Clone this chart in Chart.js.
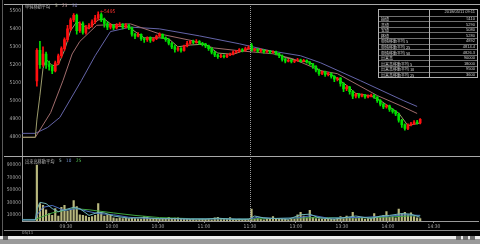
<!DOCTYPE html>
<html><head><meta charset="utf-8">
<script src="https://cdn.jsdelivr.net/npm/chart.js@4/dist/chart.umd.min.js"></script>
<style>
html,body{margin:0;padding:0;background:#000;width:480px;height:244px;overflow:hidden;}
#wrap{position:relative;width:480px;height:244px;}
#c{position:absolute;left:0;top:0;}
.t{position:absolute;font-family:'Noto Sans CJK JP',sans-serif;white-space:nowrap;line-height:1;}
.ln{position:absolute;}
#tbl{position:absolute;left:378px;top:9px;width:100px;border:1px solid #b0b0b0;box-sizing:border-box;}
.row{position:relative;height:5.6px;border-top:1px solid #707070;box-sizing:border-box;}
.row:first-child{border-top:none;}
.cl{position:absolute;left:2px;top:0.4px;font-size:4px;color:#d0d0d0;font-family:'Noto Sans CJK JP',sans-serif;white-space:nowrap;line-height:1;}
.cr{position:absolute;right:2px;top:0.4px;font-size:4px;color:#d0d0d0;font-family:'Liberation Sans','Noto Sans CJK JP',sans-serif;white-space:nowrap;line-height:1;}
#div{position:absolute;left:50px;top:0;width:1px;height:100%;background:#b0b0b0;}
</style></head>
<body><div id="wrap">
<canvas id="c" width="480" height="244"></canvas>
</div>
<script>
// ---------- data ----------
const priceTicks = [4800,4900,5000,5100,5200,5300,5400,5500];
const volumeTicks = [10000,30000,50000,70000,90000];
const tickMinutes = [30,60,90,120,150,180,210,240,270];
const tickLabels = ['09:30','10:00','10:30','11:00','11:30','13:00','13:30','14:00','14:30'];

const opens = [5110,5280,5200,5260,5200,5190,5165,5210,5250,5290,
5340,5400,5450,5475,5390,5430,5380,5410,5420,5440,
5460,5480,5450,5430,5410,5420,5405,5420,5425,5410,
5420,5405,5370,5360,5370,5345,5340,5350,5335,5345,
5360,5370,5350,5340,5320,5300,5285,5290,5280,5305,
5320,5330,5325,5330,5320,5315,5305,5290,5270,5255,
5245,5250,5245,5255,5260,5270,5275,5285,5280,5290,
5310,5280,5285,5275,5280,5272,5275,5270,5272,5262,
5250,5230,5220,5225,5218,5222,5228,5220,5224,5215,
5205,5190,5170,5150,5160,5145,5150,5135,5120,5125,
5095,5065,5075,5050,5025,5035,5025,5030,5020,5025,
5030,5020,5000,4980,4965,4970,4950,4940,4925,4890,
4865,4845,4865,4870,4880,4875];
const highs = [5290,5330,5300,5270,5220,5200,5220,5260,5300,5350,
5420,5460,5485,5482,5440,5440,5420,5430,5450,5475,
5495,5490,5460,5440,5430,5425,5430,5435,5430,5430,
5425,5410,5375,5380,5372,5350,5355,5355,5350,5365,
5378,5372,5355,5345,5325,5310,5300,5295,5310,5330,
5335,5338,5340,5335,5325,5320,5310,5295,5275,5260,
5258,5255,5260,5265,5278,5280,5290,5290,5298,5305,
5320,5292,5290,5288,5285,5282,5280,5278,5276,5265,
5255,5235,5232,5230,5228,5235,5232,5230,5228,5218,
5208,5195,5175,5165,5165,5158,5155,5140,5130,5128,
5100,5085,5080,5055,5040,5040,5038,5035,5032,5036,
5033,5022,5005,4985,4978,4975,4955,4945,4930,4895,
4870,4870,4878,4888,4890,4900];
const lows = [5080,5180,5190,5180,5170,5150,5160,5200,5240,5280,
5330,5390,5440,5370,5380,5370,5370,5400,5410,5430,
5450,5440,5410,5395,5400,5395,5400,5415,5400,5405,
5395,5360,5345,5355,5335,5325,5330,5325,5330,5340,
5355,5345,5330,5310,5290,5270,5275,5270,5275,5300,
5315,5318,5320,5312,5305,5295,5280,5260,5245,5235,
5240,5238,5240,5250,5255,5265,5270,5272,5275,5285,
5275,5275,5268,5270,5265,5268,5262,5265,5255,5240,
5220,5210,5215,5210,5212,5218,5214,5215,5208,5198,
5180,5160,5140,5145,5135,5138,5125,5105,5110,5080,
5050,5055,5035,5010,5015,5015,5020,5012,5015,5020,
5012,4990,4970,4955,4958,4940,4930,4915,4880,4850,
4835,4838,4858,4865,4868,4870];
const closes = [5280,5200,5260,5200,5190,5165,5210,5250,5290,5340,
5400,5450,5475,5390,5430,5380,5410,5420,5440,5460,
5480,5450,5430,5410,5420,5405,5420,5425,5410,5420,
5405,5370,5360,5370,5345,5340,5350,5335,5345,5360,
5370,5350,5340,5320,5300,5285,5290,5280,5305,5320,
5330,5325,5330,5320,5315,5305,5290,5270,5255,5245,
5250,5245,5255,5260,5270,5275,5285,5280,5290,5295,
5280,5285,5275,5280,5272,5275,5270,5272,5262,5250,
5230,5220,5225,5218,5222,5228,5220,5224,5215,5205,
5190,5170,5150,5160,5145,5150,5135,5120,5125,5095,
5065,5075,5050,5025,5035,5025,5030,5020,5025,5030,
5020,5000,4980,4965,4970,4950,4940,4925,4890,4865,
4845,4865,4870,4880,4875,4895];
const volumes = [90000,28000,25000,18000,12000,9000,20000,8000,22000,25000,
16000,18000,33000,23000,10000,9000,8000,6000,7000,9000,
28000,14000,8000,10000,9000,5000,4000,5000,4000,5000,
4000,4500,4000,3500,3000,7000,6000,4000,3500,3000,
4000,3000,4000,6000,3500,4500,5000,3000,2500,3000,
2500,3000,2000,2500,3000,2500,3000,2000,5000,6000,
4000,2500,3000,5500,2500,2000,3000,2000,2500,3000,
19000,3000,4000,2500,2000,3000,2500,7000,3000,4000,
2500,3000,2000,2500,3000,10000,14000,8000,5000,17000,
6000,4000,3500,3000,2500,3000,2500,3000,4000,7000,
4000,8000,5000,14000,4000,5000,6000,3000,4000,3500,
12000,6000,7000,9000,15000,6000,7000,5000,19000,12000,
14000,10000,13000,7000,5000,4000];

// moving averages (session minute, value)
const ma5Min = [1,10,11,13,15,17,21,25,29,33,37,41,45,51,55,61,71,75,81,91,97,103,111,121,129,139,149,155,165,173,181,189,195,205,213,219,229,235,241,247,253,261];
const ma5Val = [4795,4795,4892,5030,5180,5230,5195,5200,5280,5390,5440,5420,5400,5450,5455,5415,5412,5385,5350,5350,5345,5300,5310,5315,5265,5258,5288,5288,5273,5240,5222,5215,5170,5135,5085,5040,5025,5000,4965,4930,4860,4875];
const ma25Min = [1,10,20,28,34,39,50,72,91,113,126,143,157,165,178,196,207,233,248,259];
const ma25Val = [4795,4795,4933,5111,5260,5330,5420,5428,5372,5333,5294,5278,5267,5261,5233,5167,5150,5028,4972,4928];
const ma50Min = [1,10,18,26,40,49,59,72,91,117,143,163,183,196,222,250,259];
const ma50Val = [4817,4817,4850,4906,5111,5250,5385,5410,5400,5361,5317,5278,5250,5211,5111,5000,4967];
const vma5Min = [1,10,11,13,17,21,25,29,35,39,45,51,55,61,71,81,91,101,111,121,129,141,149,153,159,167,175,183,189,195,205,213,219,229,235,241,249,255,261];
const vma5Val = [1500,1500,18000,30000,28000,20000,15000,18000,22000,20000,9000,14000,13000,8000,4500,5500,3500,4000,3000,3000,4500,2500,2800,8000,5000,4000,2800,10000,11000,5000,3000,6000,8000,4000,8000,9000,12000,11000,6000];
const vma10Min = [1,10,11,15,21,29,37,45,51,61,71,81,91,111,131,149,155,165,181,191,201,215,225,241,251,261];
const vma10Val = [2000,2000,9500,22000,25000,17000,20000,15000,12000,10000,6000,4500,4000,3200,3500,3000,6000,4000,5000,9000,4500,5500,6000,8000,10000,9000];
const vma25Min = [1,10,11,21,35,45,61,75,91,111,131,149,165,185,201,221,241,261];
const vma25Val = [2500,2500,3600,13000,20000,18000,13000,9000,5500,3800,3500,3200,4000,5000,5500,5000,6500,9000];

const tableLabels = ['','始値','高値','安値','終値','単純移動平均 5','単純移動平均 25','単純移動平均 50','出来高','出来高移動平均 5','出来高移動平均 10','出来高移動平均 25'];
const tableValues = ['2018/05/11 09:11','5110','5290','5080','5280','4892','4814.4','4826.3','90000','18000','9500','3600'];

// ---------- build ----------
const barMinutes = [];
for (let m = 11; m <= 261; m += 2) barMinutes.push(m);
const UP = '#ff1010', DOWN = '#00e000';
const cols = closes.map((c, i) => c >= opens[i] ? UP : DOWN);
const pts = (mins, vals) => mins.map((m, i) => ({x: m, y: vals[i]}));
const FONT = "'Liberation Sans Narrow','DejaVu Sans Condensed','Liberation Sans',sans-serif";
const lineDs = (label, mins, vals, color, axis, order) => ({
  type: 'line', label, data: pts(mins, vals), yAxisID: axis, borderColor: color,
  borderWidth: 1, pointRadius: 0, tension: 0, order
});

const overlay = {
  id: 'overlay',
  afterDatasetsDraw(chart) {
    const {ctx, chartArea, scales} = chart;
    ctx.save();
    ctx.strokeStyle = '#9a9a9a';
    ctx.lineWidth = 1;
    ctx.setLineDash([1, 1]);
    const xp = Math.round(scales.x.getPixelForValue(150)) + 0.5;
    ctx.beginPath(); ctx.moveTo(xp, chartArea.top); ctx.lineTo(xp, chartArea.bottom); ctx.stroke();
    ctx.setLineDash([]);
    ctx.strokeStyle = '#a8a8a8';
    const yb = Math.round(scales.y.bottom) + 0.5;
    ctx.beginPath(); ctx.moveTo(4, yb); ctx.lineTo(480, yb); ctx.stroke();
    const yt = Math.round(chartArea.top) + 0.5;
    ctx.beginPath(); ctx.moveTo(4, yt); ctx.lineTo(480, yt); ctx.stroke();
    ctx.restore();
  },
  afterRender(chart) {
    if (chart._hiDone) return;
    chart._hiDone = true;
    let hi = 0;
    highs.forEach((h, i) => { if (h > highs[hi]) hi = i; });
    const px = chart.scales.x.getPixelForValue(barMinutes[hi]);
    const py = chart.scales.y.getPixelForValue(highs[hi]);
    const d = document.createElement('div');
    d.className = 't';
    d.style.cssText = `left:${px + 2}px;top:${py - 2.5}px;font-size:5px;color:#ff3030;font-family:${FONT};`;
    d.textContent = '←' + highs[hi];
    document.getElementById('wrap').appendChild(d);
  }
};

const plain = v => String(v);

new Chart(document.getElementById('c'), {
  type: 'bar',
  data: {
    datasets: [
      {type: 'bar', label: '出来高', data: barMinutes.map((m, i) => ({x: m, y: volumes[i]})), yAxisID: 'yv',
       backgroundColor: '#b8b87e', barThickness: 1.5, grouped: false, order: 9},
      lineDs('出来高移動平均 25', vma25Min, vma25Val, '#3fa53f', 'yv', 8),
      lineDs('出来高移動平均 10', vma10Min, vma10Val, '#4a6ec0', 'yv', 7),
      lineDs('出来高移動平均 5', vma5Min, vma5Val, '#6fb4b4', 'yv', 6),
      lineDs('単純移動平均 50', ma50Min, ma50Val, '#6464a8', 'y', 5),
      lineDs('単純移動平均 25', ma25Min, ma25Val, '#a06c6c', 'y', 4),
      lineDs('単純移動平均 5', ma5Min, ma5Val, '#9c9c6c', 'y', 3),
      {type: 'bar', label: 'wick', data: barMinutes.map((m, i) => ({x: m, y: [lows[i], highs[i]]})), yAxisID: 'y',
       backgroundColor: cols, barThickness: 1, grouped: false, order: 1},
      {type: 'bar', label: 'body', data: barMinutes.map((m, i) => ({x: m, y: [opens[i], closes[i]]})), yAxisID: 'y',
       backgroundColor: cols, barThickness: 2, grouped: false, order: 0}
    ]
  },
  options: {
    responsive: false, animation: false, devicePixelRatio: 1,
    layout: {padding: {left: 0, top: 3, right: 2, bottom: 14}},
    plugins: {legend: {display: false}, tooltip: {enabled: false}},
    scales: {
      x: {
        type: 'linear', min: 1.3, max: 298.7, offset: false,
        grid: {display: true, drawOnChartArea: false, drawTicks: true, tickLength: 2, color: '#8a8a8a', offset: false},
        border: {display: true, color: '#9a9a9a'},
        ticks: {color: '#a8a8a8', font: {family: FONT, size: 5}, padding: 1, maxRotation: 0, autoSkip: false,
                callback: v => { const k = tickMinutes.indexOf(v); return k >= 0 ? tickLabels[k] : ''; }},
        afterBuildTicks: s => { s.ticks = tickMinutes.map(v => ({value: v})); },
        afterFit: s => { s.height = 9; }
      },
      y: {
        type: 'linear', position: 'left', stack: 'p', stackWeight: 153, weight: 2,
        min: 4688.9, max: 5538.9,
        grid: {display: false, drawTicks: false},
        border: {display: true, color: '#9a9a9a'},
        ticks: {color: '#a8a8a8', font: {family: FONT, size: 5}, padding: 1, autoSkip: false, callback: plain},
        afterBuildTicks: s => { s.ticks = priceTicks.map(v => ({value: v})); },
        afterFit: s => { s.width = 22; }
      },
      yv: {
        type: 'linear', position: 'left', stack: 'p', stackWeight: 65, weight: 1,
        min: 0, max: 104000,
        grid: {display: false, drawTicks: false},
        border: {display: true, color: '#9a9a9a'},
        ticks: {color: '#a8a8a8', font: {family: FONT, size: 5}, padding: 1, autoSkip: false, callback: plain},
        afterBuildTicks: s => { s.ticks = volumeTicks.map(v => ({value: v})); },
        afterFit: s => { s.width = 22; }
      }
    }
  },
  plugins: [overlay]
});

// ---------- HTML text and frame ----------
const wrap = document.getElementById('wrap');
function addText(txt, x, y, size, color, fam) {
  const d = document.createElement('div');
  d.className = 't';
  d.style.left = x + 'px'; d.style.top = y + 'px';
  d.style.fontSize = size + 'px'; d.style.color = color;
  if (fam) d.style.fontFamily = fam;
  d.textContent = txt; wrap.appendChild(d); return d;
}
function addLine(x, y, w, h, color) {
  const d = document.createElement('div');
  d.className = 'ln';
  d.style.cssText = `left:${x}px;top:${y}px;width:${w}px;height:${h}px;background:${color};`;
  wrap.appendChild(d);
}
// main legend
addText('単純移動平均', 25, 4, 4.2, '#b8b8b8');
addText('5', 55, 4, 4.6, '#c8c8a8', FONT);
addText('25', 62, 4, 4.6, '#c09a9a', FONT);
addText('50', 72, 4, 4.6, '#8c8cc8', FONT);
// volume legend
addText('出来高移動平均', 25, 158.5, 4.2, '#b8b8b8');
addText('5', 59, 158.5, 4.6, '#a8d0d0', FONT);
addText('10', 66, 158.5, 4.6, '#7090d0', FONT);
addText('25', 76, 158.5, 4.6, '#50c050', FONT);
// frame and bottom bar
addLine(2, 0, 1, 236, '#5a5a5a');
addLine(4, 230, 476, 1, '#8a8a8a');
addText('05/11', 22, 231.2, 4.4, '#a0a0a0', FONT);
addLine(0, 236, 480, 3, '#ececec');
addLine(0, 239, 480, 5, '#9a9a9a');
addLine(3, 236, 5, 4, '#606060');
addLine(456, 236, 5, 4, '#707070');
addLine(463, 236, 5, 4, '#707070');
addLine(470, 236, 5, 4, '#707070');
// data table
const tbl = document.createElement('div');
tbl.id = 'tbl';
tableLabels.forEach((lab, i) => {
  const r = document.createElement('div');
  r.className = 'row';
  const l = document.createElement('div'); l.className = 'cl'; l.textContent = lab;
  const v = document.createElement('div'); v.className = 'cr'; v.textContent = tableValues[i];
  r.appendChild(l); r.appendChild(v); tbl.appendChild(r);
});
const dv = document.createElement('div'); dv.id = 'div'; tbl.appendChild(dv);
wrap.appendChild(tbl);
</script>
</body></html>
